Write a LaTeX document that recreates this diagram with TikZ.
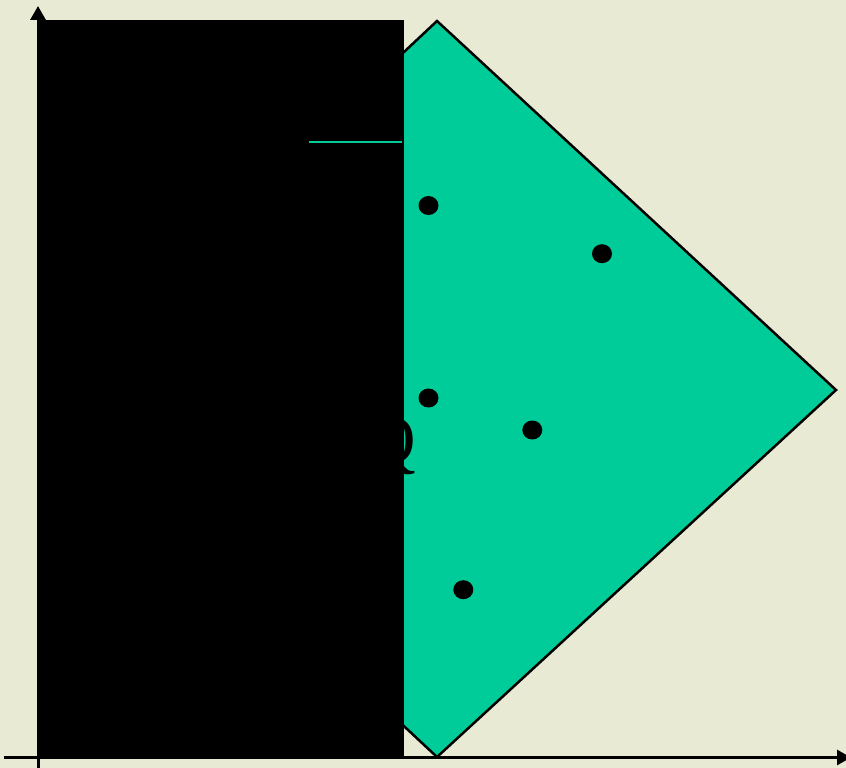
\documentclass[tikz,border=0pt]{standalone}
\usepackage{fontspec}
\setmainfont{Liberation Serif}
\usetikzlibrary{arrows.meta}
\definecolor{bgbeige}{RGB}{233,234,211}
\definecolor{diagreen}{RGB}{0,204,153}
\tikzset{
  axisline/.style={line width=3pt,-{Triangle[width=15pt,length=14pt]}},
  dotmark/.style={fill=black,draw=none,x radius=10pt,y radius=9.5pt},
  shapeout/.style={fill=diagreen,draw=black,line width=2.5pt,line join=miter},
}
\begin{document}
\begin{tikzpicture}[x=1pt,y=-1pt]
\useasboundingbox[fill=bgbeige] (0,0) rectangle (846,768);
% diamond
\coordinate (dt) at (437,21);
\coordinate (dr) at (836,390);
\coordinate (db) at (437,757);
\coordinate (dl) at (44,390);
\draw[shapeout] (dt) -- (dr) -- (db) -- (dl) -- cycle;
% dots
\fill[dotmark] (428.5,205.5) ellipse [];
\fill[dotmark] (602,253.7) ellipse [];
\fill[dotmark] (428.5,398) ellipse [];
\fill[dotmark] (532.3,430) ellipse [];
\fill[dotmark] (463.3,589.7) ellipse [];
% label
\node[anchor=base east,inner sep=0pt,font=\fontsize{70}{70}\selectfont] (q) at (416,463) {Q};
% black panel
\coordinate (pa) at (38,20.5);
\coordinate (pb) at (404,757);
\fill[black] (pa) rectangle (pb);
\coordinate (ga) at (309,142);
\coordinate (gb) at (402,142);
\draw[diagreen,line width=1.4pt] (ga) -- (gb);
% axes
\coordinate (xo) at (4,757.5);
\coordinate (xe) at (851,757.5);
\coordinate (yo) at (38,768);
\coordinate (ye) at (38,6);
\draw[axisline] (xo) -- (xe);
\draw[axisline] (yo) -- (ye);
\end{tikzpicture}
\end{document}
